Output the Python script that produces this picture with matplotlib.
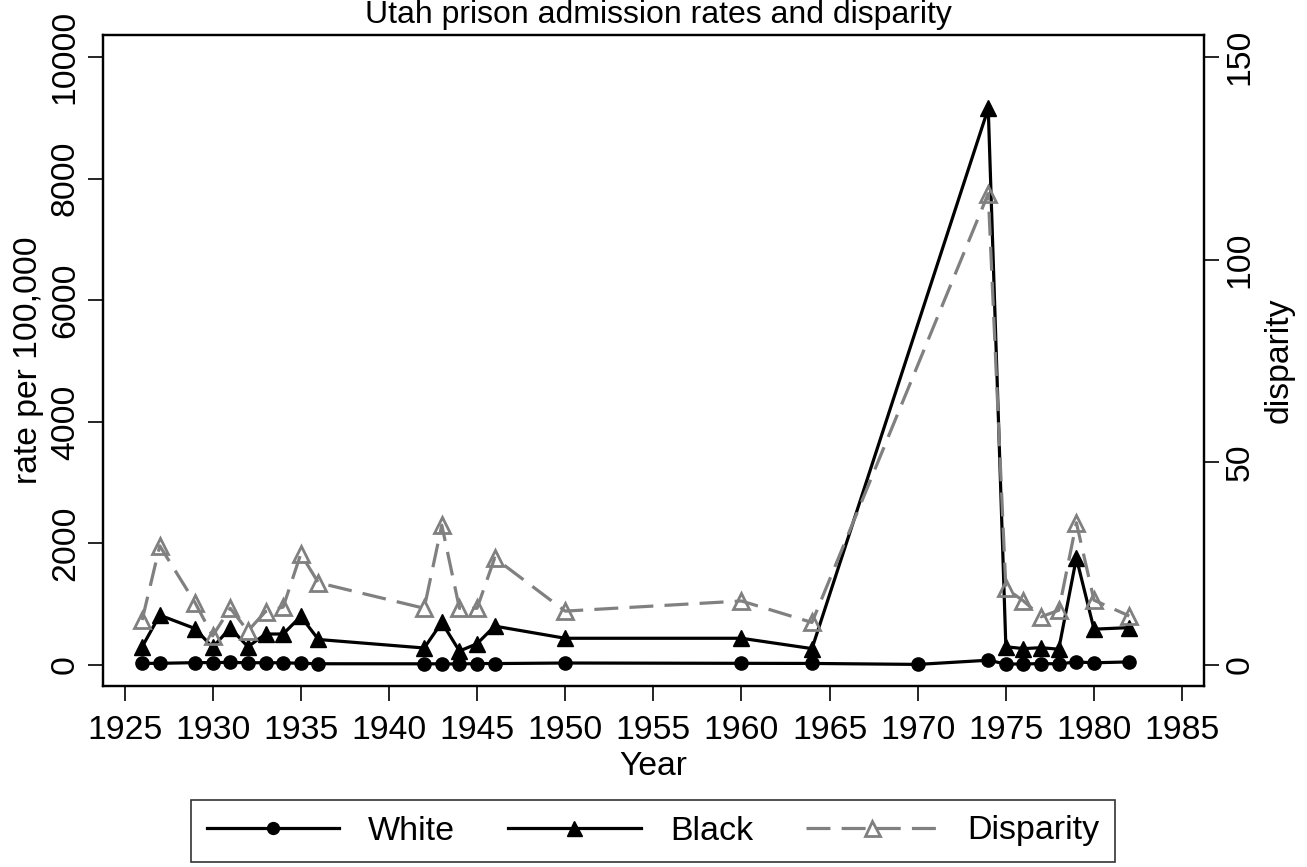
import matplotlib
matplotlib.use('Agg')
import matplotlib.pyplot as plt
from matplotlib.ticker import FixedLocator

plt.rcParams['font.family'] = ['Liberation Sans', 'DejaVu Sans']

# admission rates per 100,000 by year
years_white = [1926, 1927, 1929, 1930, 1931, 1932, 1933, 1934, 1935, 1936,
               1942, 1943, 1944, 1945, 1946, 1950, 1960, 1964, 1970, 1974,
               1975, 1976, 1977, 1978, 1979, 1980, 1982]
white = [27, 28, 39, 40, 44, 36, 39, 36, 29, 21,
         20, 20, 16, 25, 24, 33, 28, 26, 10, 79,
         16, 17, 24, 19, 50, 37, 51]

years_black = [1926, 1927, 1929, 1930, 1931, 1932, 1933, 1934, 1935, 1936,
               1942, 1943, 1944, 1945, 1946, 1950, 1960, 1964, 1974,
               1975, 1976, 1977, 1978, 1979, 1980, 1982]
black = [300, 820, 600, 290, 610, 300, 510, 510, 800, 420,
         280, 700, 230, 350, 640, 440, 440, 270, 9155,
         300, 270, 285, 260, 1760, 590, 615]

# black/white ratio
disparity = [11.1, 29.4, 15.4, 7.2, 14.0, 8.4, 13.2, 14.3, 27.4, 20.3,
             14.0, 34.5, 14.0, 14.0, 26.4, 13.3, 15.8, 10.5, 116.3,
             18.9, 15.8, 11.9, 13.5, 35.1, 16.0, 12.1]

xticks = list(range(1925, 1990, 5))
rate_ticks = [0, 2000, 4000, 6000, 8000, 10000]
disp_ticks = [0, 50, 100, 150]

W, H = 1307, 867
fig = plt.figure(figsize=(W / 100.0, H / 100.0), dpi=100)
ax = fig.add_axes([103 / W, 1 - 686 / H, (1204 - 103) / W, (686 - 35) / H])
ax2 = ax.twinx()

fs = 24.3
gray = '#808080'

l1, = ax.plot(years_white, white, color='black', lw=2.3, marker='o',
              markersize=9.5, label='White')
l2, = ax.plot(years_black, black, color='black', lw=2.3, marker='^',
              markersize=12, markeredgewidth=1, label='Black')
l3, = ax2.plot(years_black, disparity, color=gray, lw=2.3,
               ls=(0, (7.5, 3.5)), marker='^', markersize=12,
               markerfacecolor='none', markeredgecolor=gray,
               markeredgewidth=2, label='Disparity')

ax.set_xlim(1923.78, 1986.24)
ax.set_ylim(-345, 10362)
ax2.set_ylim(-345 * 0.015, 10362 * 0.015)

ax.xaxis.set_major_locator(FixedLocator(xticks))
ax.yaxis.set_major_locator(FixedLocator(rate_ticks))
ax2.yaxis.set_major_locator(FixedLocator(disp_ticks))

for a in (ax, ax2):
    a.tick_params(direction='out', length=10.5, width=1.2, labelsize=fs)
    for s in a.spines.values():
        s.set_linewidth(1.6)
ax.tick_params(axis='x', pad=10.3)
ax.tick_params(axis='y', pad=5.5)
ax2.tick_params(axis='y', pad=4.5)

plt.setp(ax.get_yticklabels(), rotation=90, va='center')
plt.setp(ax2.get_yticklabels(), rotation=90, va='center')

ax.set_xlabel('Year', fontsize=fs, labelpad=3.6)
ax.set_ylabel('rate per 100,000', fontsize=fs, labelpad=4)
ax2.set_ylabel('disparity', fontsize=fs, labelpad=5.5)

fig.text(658 / W, 1 - 23 / H, 'Utah prison admission rates and disparity',
         ha='center', va='baseline', fontsize=23)

leg = fig.legend(handles=[l1, l2, l3], loc='center',
                 bbox_to_anchor=(653 / W, 1 - 831 / H), ncol=3,
                 fontsize=24.5, frameon=True, fancybox=False,
                 edgecolor='black', handlelength=3.9, columnspacing=1.55,
                 handletextpad=0.85, borderpad=0.45, markerscale=0.9)
leg.get_frame().set_linewidth(1.2)

fig.savefig('out.png', dpi=100)
plt.close()
